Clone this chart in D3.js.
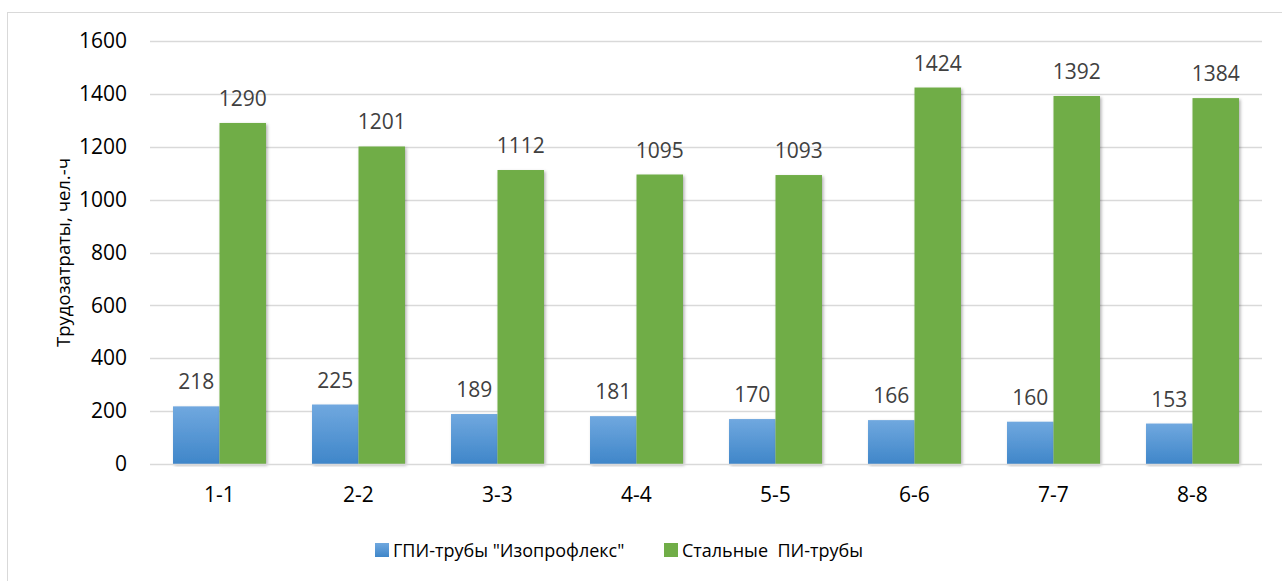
<!DOCTYPE html>
<html><head><meta charset="utf-8">
<script src="https://cdn.jsdelivr.net/npm/d3@7"></script>
<style>
body{margin:0;background:#fff;}
svg{display:block;}
svg text{font-family:"Open Sans","Noto Sans",sans-serif;}
</style></head>
<body>
<svg id="c" width="1282" height="581"></svg>
<script>
const categories = ["1-1","2-2","3-3","4-4","5-5","6-6","7-7","8-8"];
const seriesNames = ["ГПИ-трубы \"Изопрофлекс\"", "Стальные  ПИ-трубы"];
const gpiValues = [218,225,189,181,170,166,160,153];
const steelValues = [1290,1201,1112,1095,1093,1424,1392,1384];
const yTicks = [0,200,400,600,800,1000,1200,1400,1600];

const svg = d3.select("#c");
const defs = svg.append("defs");
const grad = defs.append("linearGradient").attr("id","gBlue").attr("x1",0).attr("y1",0).attr("x2",0).attr("y2",1);
grad.append("stop").attr("offset","0%").attr("stop-color","#70a8df");
grad.append("stop").attr("offset","100%").attr("stop-color","#3f86c9");
const lgrad = defs.append("linearGradient").attr("id","gBlueL").attr("x1",0).attr("y1",0).attr("x2",0).attr("y2",1);
lgrad.append("stop").attr("offset","0%").attr("stop-color","#70a8df");
lgrad.append("stop").attr("offset","100%").attr("stop-color","#3f86c9");
const flt = defs.append("filter").attr("id","sh").attr("x","-20%").attr("y","-5%").attr("width","140%").attr("height","110%");
flt.append("feDropShadow").attr("dx",1.5).attr("dy",1.5).attr("stdDeviation",1.5).attr("flood-color","#000").attr("flood-opacity",0.3);

svg.append("rect").attr("x",7.5).attr("y",12.5).attr("width",1280).attr("height",580).attr("fill","#fff").attr("stroke","#d9d9d9");

const x = d3.scaleBand().domain(categories).range([150,1262]).paddingInner(0).paddingOuter(0);
const y = d3.scaleLinear().domain([0,1600]).range([464,41]);
const inner = d3.scaleBand().domain([0,1]).range([0,x.bandwidth()]).paddingInner(0).paddingOuter(0.495);

// gridlines
svg.append("g").selectAll("line").data(yTicks.filter(d=>d>0)).join("line")
  .attr("x1",150).attr("x2",1262).attr("y1",d=>Math.round(y(d))+0.5).attr("y2",d=>Math.round(y(d))+0.5)
  .attr("stroke","#d9d9d9").attr("stroke-width",1.3);

// y axis
const yAx = svg.append("g").attr("transform","translate(150,0)")
  .call(d3.axisLeft(y).tickValues(yTicks).tickFormat(d3.format("d")).tickSize(0).tickPadding(23));
yAx.attr("font-family",null).attr("font-size",null);
yAx.select(".domain").remove();
yAx.selectAll("text").attr("font-size",21).attr("fill","#000");

const series = [gpiValues, steelValues];
const fills = ["url(#gBlue)","#70ad47"];
series.forEach((vals,si)=>{
  svg.append("g").attr("filter","url(#sh)").selectAll("rect").data(vals).join("rect")
    .attr("x",(d,i)=>x(categories[i])+inner(si))
    .attr("width",inner.bandwidth())
    .attr("y",d=>y(d)).attr("height",d=>y(0)-y(d))
    .attr("fill",fills[si]);
  svg.append("g").selectAll("text").data(vals).join("text")
    .attr("x",(d,i)=>x(categories[i])+inner(si)+inner.bandwidth()/2)
    .attr("y",d=>y(d)-17)
    .attr("text-anchor","middle").attr("font-size",21).attr("fill","#404040")
    .text(d=>d);
});

// baseline
svg.append("line").attr("x1",150).attr("x2",1262).attr("y1",y(0)+0.5).attr("y2",y(0)+0.5).attr("stroke","#d9d9d9").attr("stroke-width",1.5);

// x axis labels
const xAx = svg.append("g").attr("transform",`translate(0,${y(0)})`)
  .call(d3.axisBottom(x).tickSize(0).tickPadding(23));
xAx.attr("font-family",null).attr("font-size",null);
xAx.select(".domain").remove();
xAx.selectAll("text").attr("font-size",21).attr("fill","#000");

// y title
svg.append("text").attr("transform",`translate(70,${(y(0)+y(1600))/2}) rotate(-90)`)
  .attr("text-anchor","middle").attr("font-size",18.5).attr("fill","#000").text("Трудозатраты, чел.-ч");

// legend
const leg = [{x:375,c:"url(#gBlueL)",t:seriesNames[0]},{x:664,c:"#70ad47",t:seriesNames[1]}];
leg.forEach(l=>{
  svg.append("rect").attr("x",l.x).attr("y",543).attr("width",14).attr("height",14).attr("fill",l.c);
  svg.append("text").attr("x",l.x+18).attr("y",557).attr("font-size",18).attr("fill","#000")
    .style("white-space","pre").attr("xml:space","preserve").text(l.t);
});
</script>
</body></html>
